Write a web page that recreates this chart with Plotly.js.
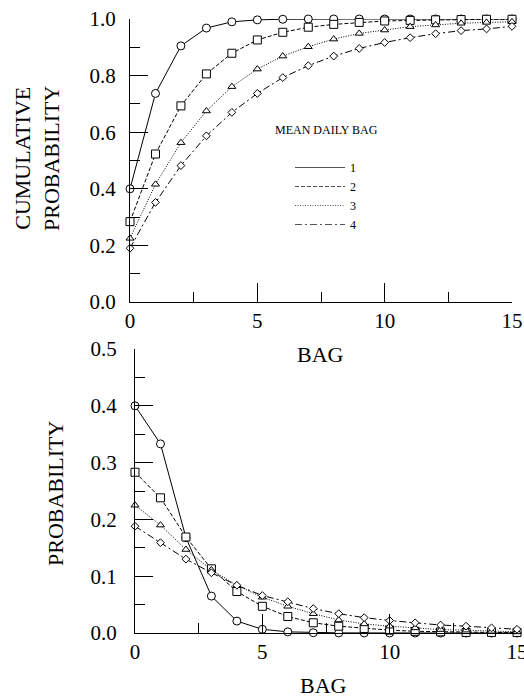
<!DOCTYPE html>
<html>
<head>
<meta charset="utf-8">
<script src="https://cdn.plot.ly/plotly-3.0.1.min.js"></script>
<style>html,body{margin:0;padding:0;background:#fff;}#chart{width:524px;height:698px;}</style>
</head>
<body>
<div id="chart"></div>
<script>
// ---- data ----
var bag = [0,1,2,3,4,5,6,7,8,9,10,11,12,13,14,15];
var seriesNames = ["1","2","3","4"];
// cumulative probability (top panel)
var cum1 = [0.40,0.737,0.905,0.968,0.990,0.997,0.999,1.0,1.0,1.0,1.0,1.0,1.0,1.0,1.0,1.0];
var cum2 = [0.284,0.523,0.693,0.806,0.879,0.926,0.953,0.971,0.981,0.988,0.993,0.995,0.997,0.998,0.999,0.999];
var cum3 = [0.225,0.416,0.563,0.675,0.761,0.823,0.869,0.902,0.929,0.949,0.961,0.973,0.979,0.985,0.988,0.990];
var cum4 = [0.190,0.352,0.482,0.587,0.670,0.737,0.793,0.835,0.869,0.896,0.917,0.934,0.948,0.959,0.965,0.974];
// probability (bottom panel)
var prob1 = [0.400,0.333,0.168,0.065,0.021,0.0065,0.002,0.0005,0.0002,0.0001,0,0,0,0,0,0];
var prob2 = [0.283,0.238,0.169,0.113,0.073,0.047,0.029,0.018,0.012,0.008,0.005,0.003,0.002,0.001,0.001,0.001];
var prob3 = [0.225,0.190,0.147,0.111,0.084,0.063,0.047,0.034,0.023,0.016,0.012,0.009,0.006,0.005,0.003,0.002];
var prob4 = [0.188,0.159,0.130,0.106,0.084,0.066,0.055,0.043,0.034,0.027,0.022,0.018,0.014,0.012,0.009,0.0065];

var cumSeries = [cum1, cum2, cum3, cum4];
var probSeries = [prob1, prob2, prob3, prob4];
var dashes = ["solid", "4px,2px", "1px,1.5px", "7px,3px,2px,3px"];
var symbols = ["circle", "square", "triangle-up", "diamond"];
var sizes = [8, 8, 7, 6];

var SERIF = "Liberation Serif";
var W = 524, H = 698;
function px(x){ return x / W; }
function py(y){ return 1 - y / H; }

var traces = [];
for (var i = 0; i < 4; i++) {
  var common = {
    mode: "lines+markers",
    line: {color: "#000", width: 1, dash: dashes[i]},
    marker: {symbol: symbols[i], size: sizes[i], color: "#fff", line: {color: "#000", width: 1}},
    showlegend: false,
    cliponaxis: false,
    hoverinfo: "x+y"
  };
  traces.push(Object.assign({}, common, {x: bag, y: cumSeries[i], xaxis: "x", yaxis: "y", name: seriesNames[i]}));
  traces.push(Object.assign({}, common, {x: bag, y: probSeries[i], xaxis: "x2", yaxis: "y2", name: seriesNames[i]}));
}
// legend entries (lines only)
for (var j = 0; j < 4; j++) {
  traces.push({
    x: [null], y: [null], xaxis: "x", yaxis: "y",
    mode: "lines", name: seriesNames[j],
    line: {color: "#555", width: 1, dash: dashes[j]},
    showlegend: true
  });
}

function xax(domain, anchor) {
  return {
    domain: domain, anchor: anchor, range: [0, 15],
    showline: true, linecolor: "#000", linewidth: 1,
    ticks: "inside", ticklen: 19, tickwidth: 1, tickcolor: "#000",
    tick0: 0, dtick: 5,
    minor: {ticks: "inside", ticklen: 10, tickwidth: 1, tickcolor: "#000", dtick: 2.5, tick0: 0, showgrid: false},
    showgrid: false, zeroline: false,
    ticklabeloverflow: "allow",
    tickfont: {family: SERIF, size: 21, color: "#000"},
    fixedrange: true
  };
}
function yax(domain, anchor, range, dt, standoff) {
  return {
    domain: domain, anchor: anchor, range: range,
    showline: true, linecolor: "#000", linewidth: 1,
    ticks: "inside", ticklen: 18, tickwidth: 1, tickcolor: "#000",
    tick0: 0, dtick: dt, tickformat: ".1f",
    minor: {ticks: "inside", ticklen: 10, tickwidth: 1, tickcolor: "#000", dtick: dt / 2, tick0: 0, showgrid: false},
    showgrid: false, zeroline: false,
    ticklabelstandoff: standoff,
    tickfont: {family: SERIF, size: 21, color: "#000"},
    fixedrange: true
  };
}

var layout = {
  width: W, height: H,
  margin: {l: 0, r: 0, t: 0, b: 0},
  paper_bgcolor: "#fff", plot_bgcolor: "rgba(0,0,0,0)",
  font: {family: SERIF, color: "#000"},
  xaxis: xax([px(130), px(512)], "y"),
  yaxis: yax([py(302), py(19)], "x", [0, 1], 0.2, 9),
  xaxis2: xax([px(135), px(517)], "y2"),
  yaxis2: yax([py(633), py(349)], "x2", [0, 0.5], 0.1, 13),
  showlegend: true,
  legend: {
    x: px(290), y: py(153), xanchor: "left", yanchor: "top",
    bgcolor: "rgba(0,0,0,0)", borderwidth: 0,
    font: {family: SERIF, size: 12, color: "#000"},
    itemwidth: 50
  },
  annotations: [
    {text: "CUMULATIVE<br>PROBABILITY", xref: "paper", yref: "paper", x: px(37), y: py(158),
     textangle: -90, showarrow: false, font: {family: SERIF, size: 22}, xanchor: "center", yanchor: "middle"},
    {text: "BAG", xref: "paper", yref: "paper", x: px(320), y: py(354),
     showarrow: false, font: {family: SERIF, size: 22}, xanchor: "center", yanchor: "middle"},
    {text: "PROBABILITY", xref: "paper", yref: "paper", x: px(55), y: py(493),
     textangle: -90, showarrow: false, font: {family: SERIF, size: 22}, xanchor: "center", yanchor: "middle"},
    {text: "BAG", xref: "paper", yref: "paper", x: px(323), y: py(685),
     showarrow: false, font: {family: SERIF, size: 22}, xanchor: "center", yanchor: "middle"},
    {text: "MEAN DAILY BAG", xref: "paper", yref: "paper", x: px(326), y: py(130),
     showarrow: false, font: {family: SERIF, size: 12}, xanchor: "center", yanchor: "middle"}
  ]
};

Plotly.newPlot("chart", traces, layout, {staticPlot: true, displayModeBar: false});
</script>
</body>
</html>
